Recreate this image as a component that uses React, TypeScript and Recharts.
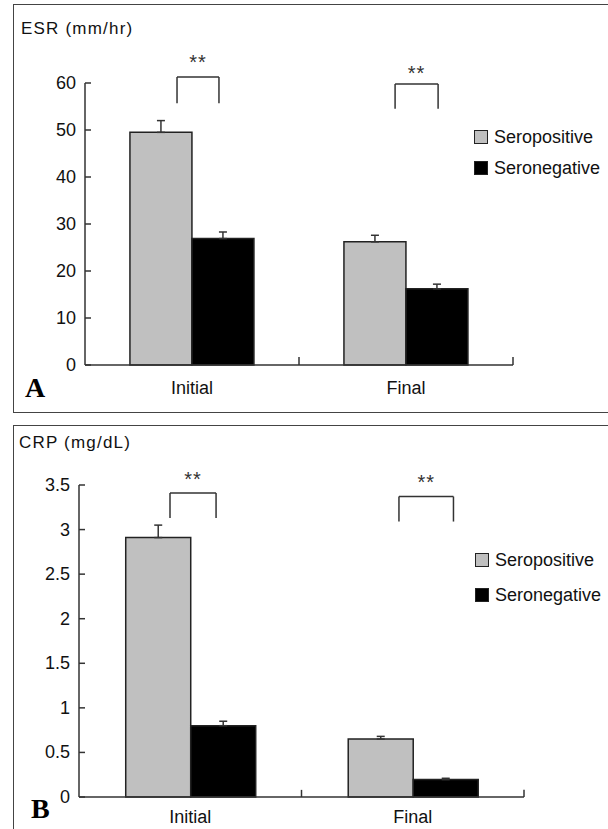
import React from "react";
import {
  BarChart,
  Bar,
  XAxis,
  YAxis,
  ErrorBar,
  ReferenceLine,
  ReferenceDot,
} from "recharts";

const categories = ["Initial", "Final"];
const seriesNames = ["Seropositive", "Seronegative"];

const esrSeropositive = [49.5, 26.2];
const esrSeropositiveErr = [2.5, 1.4];
const esrSeronegative = [26.9, 16.2];
const esrSeronegativeErr = [1.4, 1.0];
const esrTicks = [0, 10, 20, 30, 40, 50, 60];

const crpSeropositive = [2.91, 0.65];
const crpSeropositiveErr = [0.14, 0.03];
const crpSeronegative = [0.8, 0.195];
const crpSeronegativeErr = [0.05, 0.015];
const crpTicks = [0, 0.5, 1, 1.5, 2, 2.5, 3, 3.5];

// significance brackets, in data units (x on a 0..1 scale across the plot)
const esrBrackets = [
  { x1: 0.215, x2: 0.313, low: 55.7, top: 61.3, star: 64.5 },
  { x1: 0.7245, x2: 0.825, low: 54.5, top: 59.8, star: 62.1 },
];
const crpBrackets = [
  { x1: 0.2045, x2: 0.308, low: 3.13, top: 3.41, star: 3.57 },
  { x1: 0.719, x2: 0.8415, low: 3.09, top: 3.37, star: 3.53 },
];
// group boundaries on the same 0..1 scale
const boundaries = [0.5, 1];

const FONT = "'Liberation Sans', Arial, sans-serif";
const GRAY = "#c0c0c0";
const INK = "#222";

function buildRows(pos: number[], posErr: number[], neg: number[], negErr: number[]) {
  return categories.map((c, i) => ({
    name: c,
    pos: pos[i],
    posErr: [0, posErr[i]],
    neg: neg[i],
    negErr: [0, negErr[i]],
  }));
}

interface PanelProps {
  rows: any[];
  ticks: number[];
  brackets: typeof esrBrackets;
  width: number;
  height: number;
  margin: { top: number; right: number; bottom: number; left: number };
  xAxisHeight: number;
  labelDy: number;
  boundaryTick: number;
}

function Panel({ rows, ticks, brackets, width, height, margin, xAxisHeight, labelDy, boundaryTick }: PanelProps) {
  const yMax = ticks[ticks.length - 1];
  const seg = (x1: number, y1: number, x2: number, y2: number, key: string) => (
    <ReferenceLine
      key={key}
      xAxisId="n"
      segment={[{ x: x1, y: y1 }, { x: x2, y: y2 }]}
      stroke="#333"
      strokeWidth={1.5}
      ifOverflow="visible"
    />
  );
  return (
    <BarChart width={width} height={height} data={rows} margin={margin} barCategoryGap="21%" barGap={0}>
      <XAxis
        dataKey="name"
        height={xAxisHeight}
        stroke="#333"
        strokeWidth={1.5}
        tickLine={false}
        tickSize={0}
        tickMargin={0}
        interval={0}
        tick={(p: any) => (
          <text x={p.x} y={p.y + labelDy} textAnchor="middle" dominantBaseline="central" fontSize={18} fontFamily={FONT} fill="#111">
            {p.payload.value}
          </text>
        )}
      />
      <XAxis xAxisId="n" type="number" domain={[0, 1]} allowDataOverflow hide />
      <YAxis
        width={60}
        domain={[0, yMax]}
        ticks={ticks}
        stroke="#333"
        strokeWidth={1.5}
        tickLine={false}
        tickSize={0}
        tickMargin={0}
        interval={0}
        tick={(p: any) => (
          <g>
            <line x1={p.x} x2={p.x + 6} y1={p.y} y2={p.y} stroke="#333" strokeWidth={1.5} />
            <text x={p.x - 9} y={p.y} textAnchor="end" dominantBaseline="central" fontSize={18} fontFamily={FONT} fill="#111">
              {p.payload.value}
            </text>
          </g>
        )}
      />
      <Bar dataKey="pos" name={seriesNames[0]} fill={GRAY} stroke={INK} strokeWidth={1.5} isAnimationActive={false}>
        <ErrorBar dataKey="posErr" direction="y" width={4} stroke="#333" strokeWidth={1.5} />
      </Bar>
      <Bar dataKey="neg" name={seriesNames[1]} fill="#000" stroke={INK} strokeWidth={1.5} isAnimationActive={false}>
        <ErrorBar dataKey="negErr" direction="y" width={4} stroke="#333" strokeWidth={1.5} />
      </Bar>
      {boundaries.map((x) => seg(x, 0, x, boundaryTick, `bt${x}`))}
      {brackets.flatMap((b, i) => [
        seg(b.x1, b.low, b.x1, b.top, `l${i}`),
        seg(b.x1, b.top, b.x2, b.top, `t${i}`),
        seg(b.x2, b.top, b.x2, b.low, `r${i}`),
      ])}
      {brackets.map((b, i) => (
        <ReferenceDot
          key={`s${i}`}
          xAxisId="n"
          x={(b.x1 + b.x2) / 2}
          y={b.star}
          r={1}
          fill="none"
          stroke="none"
          ifOverflow="visible"
          label={{ value: "**", position: "center", fontSize: 20, fill: "#333", fontFamily: FONT, letterSpacing: 1 }}
        />
      ))}
    </BarChart>
  );
}

function LegendBox({ left, top, gap }: { left: number; top: number; gap: number }) {
  const fills = [GRAY, "#000"];
  return (
    <div style={{ position: "absolute", left, top, fontFamily: FONT, fontSize: 18, color: "#111" }}>
      {seriesNames.map((n, i) => (
        <div key={n} style={{ display: "flex", alignItems: "center", height: 20, marginBottom: i === 0 ? gap : 0 }}>
          <span
            style={{
              display: "inline-block",
              width: 12,
              height: 12,
              background: fills[i],
              border: `1px solid ${INK}`,
              marginRight: 6,
            }}
          />
          <span>{n}</span>
        </div>
      ))}
    </div>
  );
}

export default function App() {
  const esrRows = buildRows(esrSeropositive, esrSeropositiveErr, esrSeronegative, esrSeronegativeErr);
  const crpRows = buildRows(crpSeropositive, crpSeropositiveErr, crpSeronegative, crpSeronegativeErr);
  const panelLetter: React.CSSProperties = {
    position: "absolute",
    fontFamily: "'Liberation Serif', 'Times New Roman', serif",
    fontWeight: "bold",
    fontSize: 28,
    lineHeight: "28px",
  };
  const title: React.CSSProperties = {
    position: "absolute",
    fontFamily: FONT,
    fontSize: 17,
    lineHeight: "20px",
    letterSpacing: 1.2,
    color: "#111",
  };
  return (
    <div style={{ position: "absolute", left: 0, top: 0, width: 608, height: 829, background: "#fff", overflow: "hidden" }}>
      <div style={{ position: "absolute", left: 13, top: 4, width: 620, height: 407, border: "1px solid #444" }} />
      <div style={{ position: "absolute", left: 13, top: 425, width: 620, height: 420, border: "1px solid #444" }} />

      <div style={{ position: "absolute", left: 0, top: 0 }}>
        <Panel
          rows={esrRows}
          ticks={esrTicks}
          brackets={esrBrackets}
          width={608}
          height={412}
          margin={{ top: 83, right: 95, bottom: 17, left: 25 }}
          xAxisHeight={30}
          labelDy={23}
          boundaryTick={1.7}
        />
      </div>
      <div style={{ position: "absolute", left: 0, top: 412 }}>
        <Panel
          rows={crpRows}
          ticks={crpTicks}
          brackets={crpBrackets}
          width={608}
          height={417}
          margin={{ top: 73, right: 84, bottom: 0, left: 19 }}
          xAxisHeight={32}
          labelDy={20}
          boundaryTick={0.08}
        />
      </div>

      <div style={{ ...title, left: 21, top: 19 }}>ESR (mm/hr)</div>
      <div style={{ ...title, left: 19, top: 433 }}>CRP (mg/dL)</div>
      <div style={{ ...panelLetter, left: 25, top: 374 }}>A</div>
      <div style={{ ...panelLetter, left: 31, top: 795 }}>B</div>

      <LegendBox left={474} top={127} gap={11} />
      <LegendBox left={475} top={550} gap={15} />
    </div>
  );
}
